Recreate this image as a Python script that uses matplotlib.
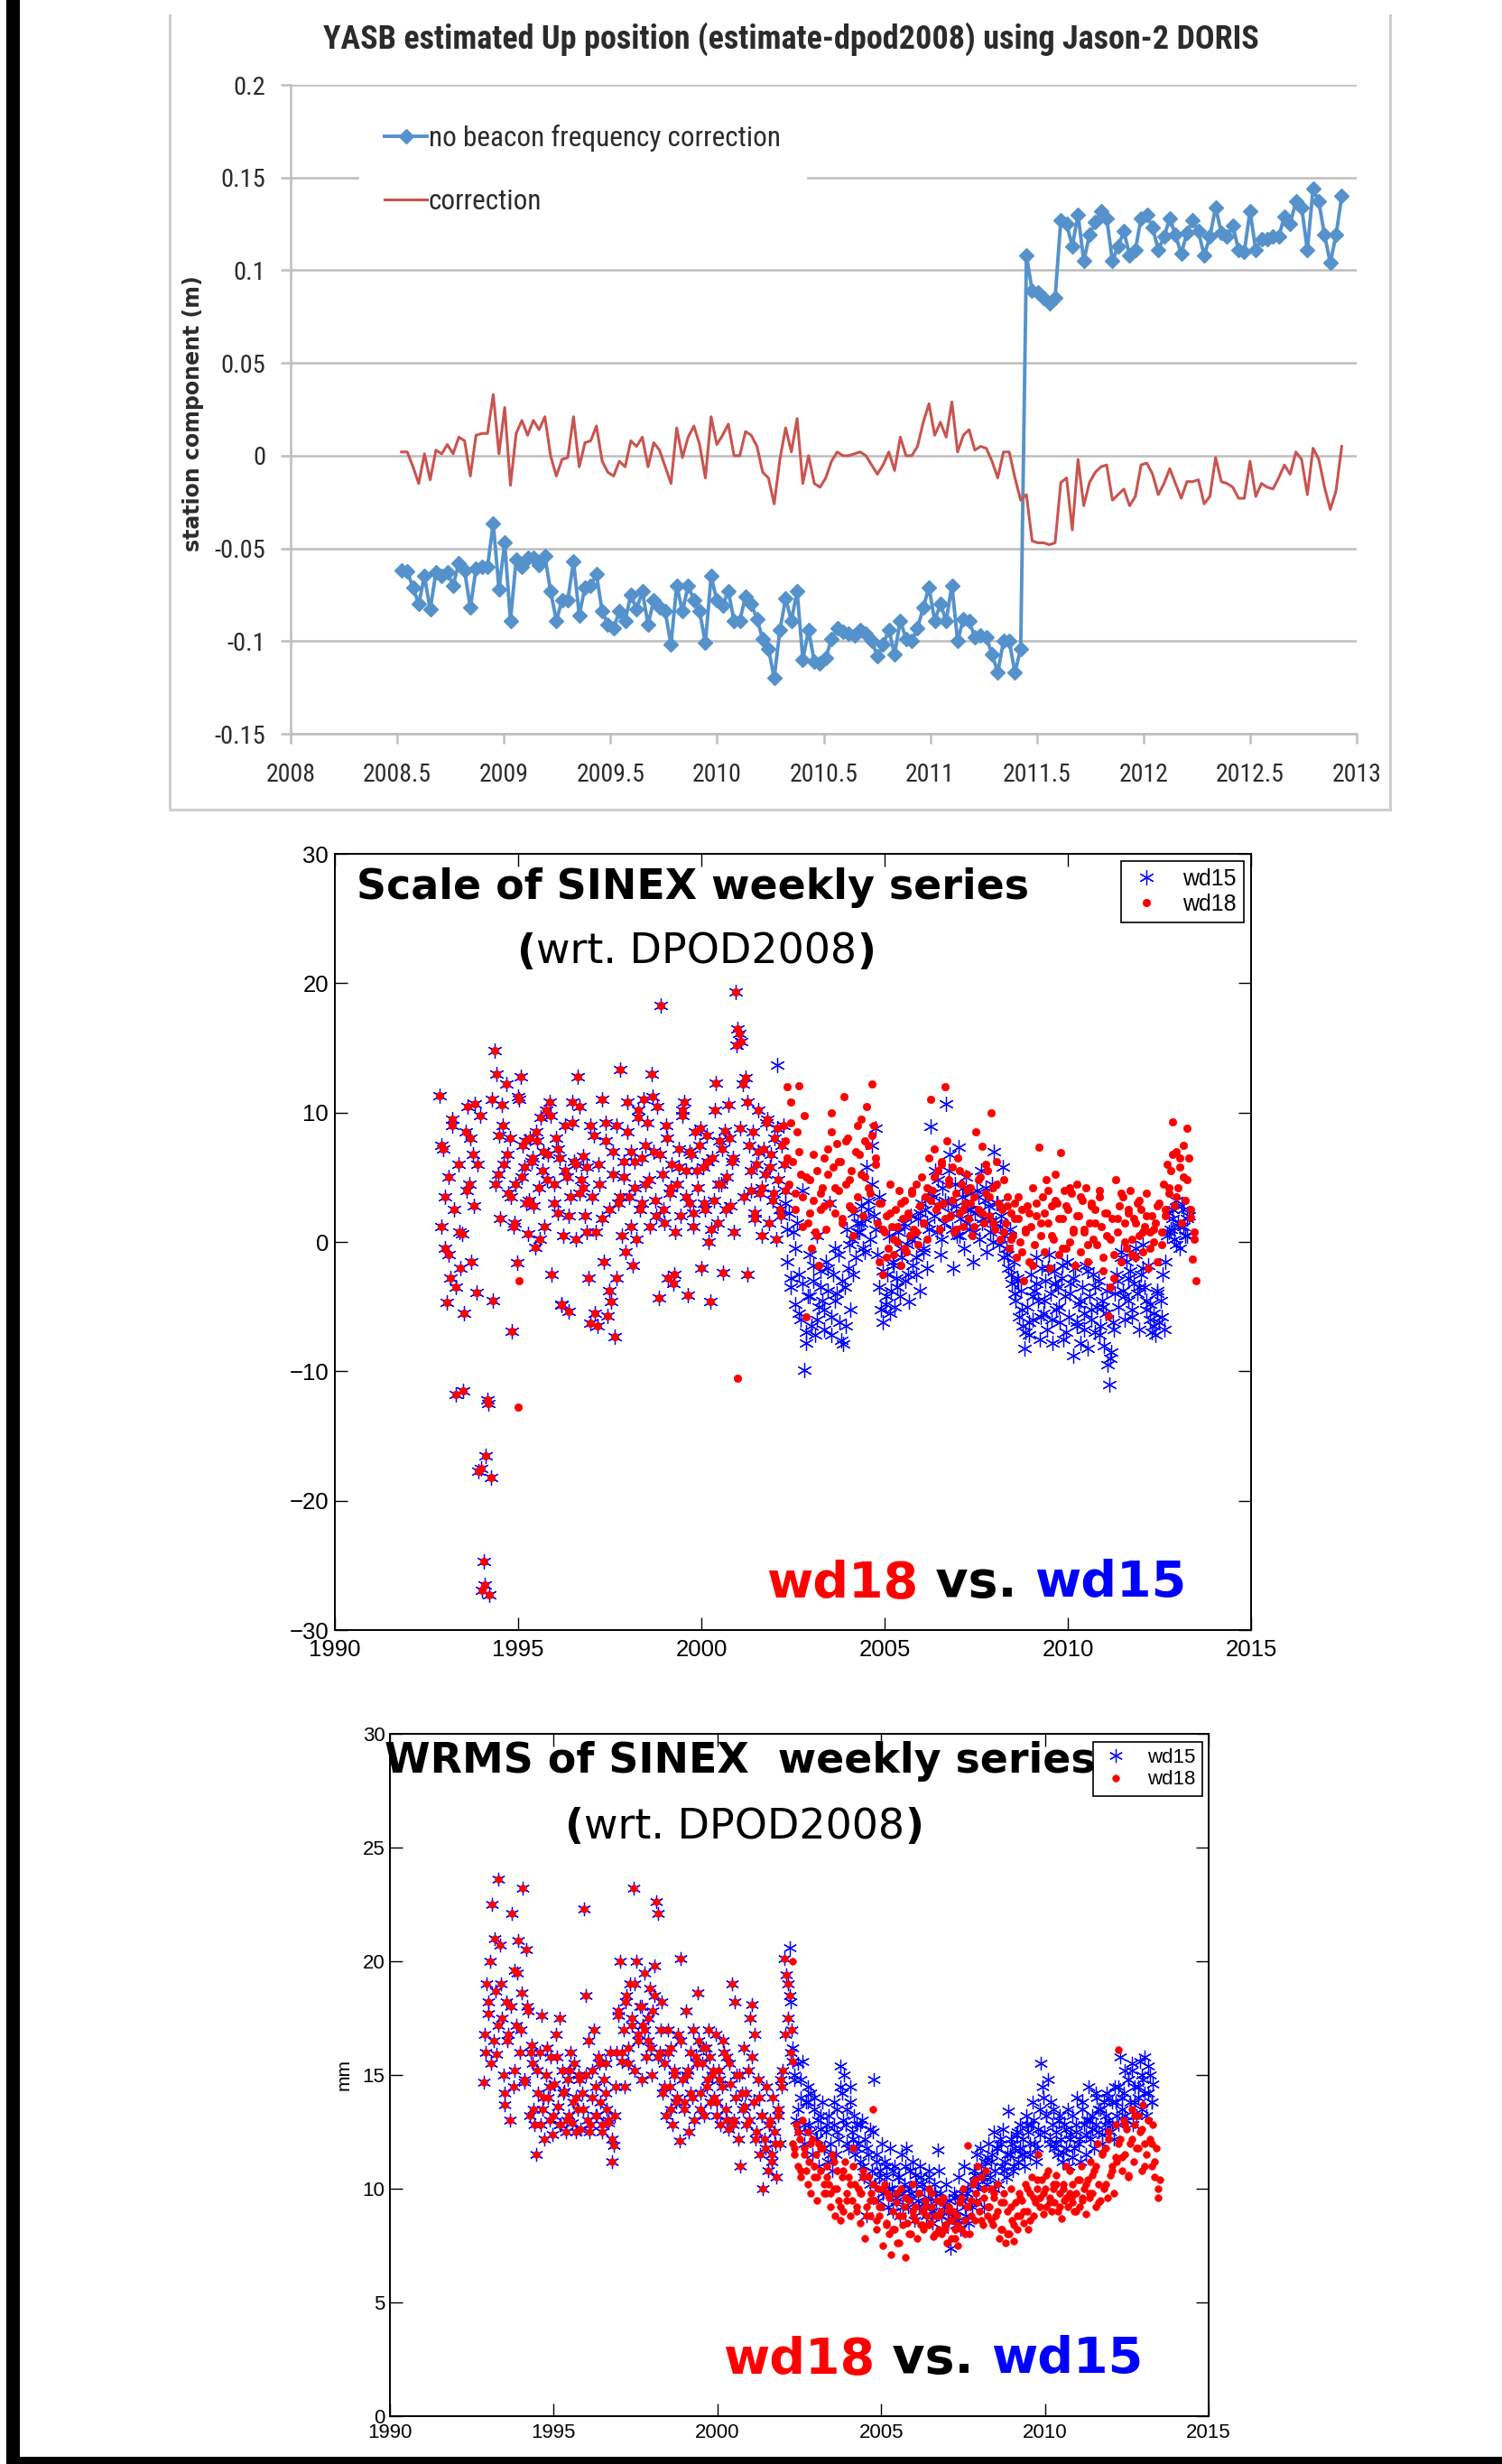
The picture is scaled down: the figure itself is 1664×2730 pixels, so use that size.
import numpy as np
import matplotlib.pyplot as plt
from matplotlib import font_manager
from matplotlib.lines import Line2D
from matplotlib.patches import Rectangle

# ---------------- data: top panel (Jason-2 DORIS, YASB up, metres) ----------------
up_t_start, up_t_end = 2008.52, 2012.93

no_beacon = [
    -0.062, -0.0625, -0.071, -0.080, -0.065, -0.083, -0.063, -0.065, -0.063, -0.070,
    -0.058, -0.062, -0.082, -0.061, -0.060, -0.060, -0.0365, -0.072, -0.047, -0.089,
    -0.056, -0.060, -0.055, -0.055, -0.059, -0.054, -0.073, -0.089, -0.078, -0.078,
    -0.057, -0.086, -0.071, -0.070, -0.064, -0.084, -0.091, -0.093, -0.084, -0.089,
    -0.075, -0.083, -0.073, -0.091, -0.078, -0.082, -0.084, -0.102, -0.070, -0.084,
    -0.070, -0.078, -0.084, -0.101, -0.065, -0.078, -0.081, -0.073,
    -0.089, -0.089, -0.076, -0.080, -0.088, -0.099, -0.104, -0.120, -0.094, -0.077,
    -0.089, -0.073, -0.110, -0.094, -0.111, -0.112, -0.109, -0.099, -0.093, -0.095,
    -0.096, -0.097, -0.094, -0.096, -0.100, -0.108, -0.102, -0.094, -0.107, -0.089,
    -0.099, -0.100, -0.093, -0.082, -0.071, -0.089, -0.080, -0.089, -0.070, -0.100,
    -0.088, -0.089, -0.098, -0.097, -0.098, -0.107, -0.117, -0.100, -0.100, -0.117,
    -0.104,
    0.108, 0.089, 0.088, 0.085, 0.082, 0.085, 0.127, 0.125, 0.113, 0.130,
    0.105, 0.119, 0.126, 0.132, 0.128, 0.105, 0.113, 0.121, 0.108, 0.111,
    0.128, 0.130, 0.123, 0.111, 0.118, 0.128, 0.119, 0.109, 0.120, 0.127,
    0.121, 0.108, 0.118, 0.134, 0.120, 0.118, 0.124, 0.111, 0.110, 0.132,
    0.111, 0.117, 0.117, 0.118, 0.118, 0.129, 0.125, 0.137, 0.134, 0.111,
    0.144, 0.137, 0.119, 0.104, 0.119, 0.140,
]

correction = [
    0.002, 0.002, -0.006, -0.015, 0.001, -0.013, 0.003, 0.001, 0.006, 0.001,
    0.010, 0.008, -0.011, 0.011, 0.012, 0.012, 0.033, 0.001, 0.026, -0.016,
    0.012, 0.019, 0.011, 0.019, 0.014, 0.021, 0.000, -0.011, -0.002, -0.001,
    0.021, -0.006, 0.007, 0.008, 0.016, -0.003, -0.009, -0.011, -0.003, -0.006,
    0.008, 0.005, 0.010, -0.006, 0.007, 0.003, -0.006, -0.015, 0.015, -0.001,
    0.010, 0.016, 0.006, -0.012, 0.021, 0.006, 0.011, 0.017,
    0.000, 0.000, 0.013, 0.011, 0.005, -0.009, -0.012, -0.026, -0.002, 0.015,
    0.002, 0.020, -0.015, 0.000, -0.015, -0.017, -0.012, -0.003, 0.002, 0.000,
    0.000, 0.001, 0.002, 0.000, -0.005, -0.010, -0.005, 0.002, -0.008, 0.010,
    0.000, 0.000, 0.005, 0.018, 0.028, 0.011, 0.018, 0.010, 0.029, 0.002,
    0.011, 0.014, 0.003, 0.005, 0.004, -0.003, -0.012, 0.002, 0.002, -0.012,
    -0.024,
    -0.021, -0.046, -0.047, -0.047, -0.048, -0.047, -0.0145, -0.012, -0.040, -0.002,
    -0.027, -0.0145, -0.009, -0.006, -0.005, -0.024, -0.021, -0.018, -0.027, -0.022,
    -0.005, -0.004, -0.010, -0.021, -0.015, -0.007, -0.015, -0.023, -0.014, -0.014,
    -0.013, -0.026, -0.022, -0.001, -0.014, -0.015, -0.017, -0.023, -0.023, -0.003,
    -0.022, -0.015, -0.017, -0.018, -0.012, -0.005, -0.010, 0.002, -0.002, -0.021,
    0.004, -0.002, -0.017, -0.029, -0.019, 0.005,
]

up_yticks = [-0.15, -0.1, -0.05, 0, 0.05, 0.1, 0.15, 0.2]
up_ylabels = ['-0.15', '-0.1', '-0.05', '0', '0.05', '0.1', '0.15', '0.2']
up_xticks = [2008, 2008.5, 2009, 2009.5, 2010, 2010.5, 2011, 2011.5, 2012, 2012.5, 2013]
up_xlabels = ['2008', '2008.5', '2009', '2009.5', '2010', '2010.5', '2011', '2011.5',
              '2012', '2012.5', '2013']

# ---------------- data: middle panel (scale, weekly SINEX) ----------------
# before 2002.3 wd15 and wd18 sit on top of each other
scale_common_span = (1992.86, 2002.30)
scale_common = [
    11.3, 1.2, 7.2, -0.5, -4.7, 5.0, -2.8, 9.0, 2.5, -11.8,
    6.0, -2.0, 0.6, -5.5, 8.5, 10.5, 4.5, -1.5, 6.8, 10.7,
    -3.9, -17.7, 9.8, -26.9, -24.7, -16.5, -12.2, -27.3, -18.2, -4.5,
    14.8, 13.0, 5.2, 1.8, 10.6, 6.0, 12.2, 3.8, 8.0, -6.9,
    1.2, 4.5, -1.6, 11.0, 12.8, 7.5, 5.8, 3.0, 0.6, 8.0,
    6.2, 2.8, -0.4, 7.8, 4.2, 9.6, 5.5, 1.2, 10.2, 6.8,
    10.8, -2.5, 4.5, 8.0, 2.2, 6.5, -4.9, 0.5, 9.0, 5.0,
    -5.4, 3.5, 9.2, 6.2, 0.2, 12.8, 10.5, 4.8, 6.6, 2.0,
    5.8, -2.8, -6.3, 3.5, 8.2, 0.8, -6.5, 4.5, 11.0, -1.5,
    9.2, -5.7, 2.5, -4.6, 7.0, -7.3, -2.8, 3.0, 13.3, 0.5,
    6.2, -0.8, 10.8, 3.5, 7.0, -1.8, 4.2, 0.2, 9.6, 2.5,
    6.5, 11.0, 4.5, 9.2, 1.2, 13.0, 7.0, 3.2, 10.5, -4.3,
    18.3, 5.2, 1.5, 9.0, -2.8, 3.8, 6.0, -3.2, 0.8, 4.5,
    7.2, 2.0, 9.8, 10.8, 5.5, -4.1, 3.0, 6.8, 1.2, 8.5,
    4.2, 7.5, -2.0, 5.8, 2.5, 8.2, 0.0, -4.6, 6.5, 3.2,
    12.3, 1.5, 7.8, 4.5, -2.4, 8.6, 5.0, 10.6, 2.8, 6.2,
    0.8, 19.3, 16.5, 16.1, 15.5, 12.2, 12.7, -2.5, 7.5, 4.0,
    8.5, 2.2, 6.0, 10.2, 3.8, 0.5, 7.2, 5.2, 9.5, 1.5,
    6.8, 3.2, 8.0, 0.2, 4.8, 2.5, 7.5, 9.0, 4.0,
]
scale_common_b_span = (1992.90, 2002.26)
scale_common_b = [
    7.5, 3.5, -1.0, 9.5, -3.5, 0.8, -11.5, 4.0, 8.0, 2.8,
    6.0, -17.5, -26.5, -12.5, 11.0, 4.5, 8.2, 9.0, 6.8, 3.5,
    1.5, 11.2, 5.0, 7.8, 3.2, 6.5, 8.5, 0.2, 7.0, 4.8,
    9.8, 3.0, 7.2, -4.8, 5.5, 2.0, 10.8, 6.0, 3.8, 4.2,
    0.8, 9.0, -5.5, 6.0, 1.8, 7.8, -3.8, 5.2, 9.0, 3.5,
    5.0, 8.5, 1.2, 6.2, 10.2, 3.0, 7.5, 4.8, 11.2, 2.0,
    6.8, 2.5, 8.0, 4.2, -2.5, 5.8, 10.2, 3.5, 7.0, 2.2,
    5.5, 8.8, 3.0, 6.2, 1.0, 10.2, 4.5, 7.2, 2.5, 8.0,
    6.5, 15.2, 8.8, 3.5, 10.8, 5.5, 1.8, 7.0, 4.2, 9.2,
    5.8, 3.8, 8.8, 2.0, 6.0,
]
scale_wd15_span = (2002.30, 2013.30)
scale_wd15 = [
    3.0, -1.5, 2.2, -3.5, 0.8, -4.8, 1.5, -2.5, -6.0, 4.0,
    -9.9, -7.8, -4.2, -1.0, -6.5, -3.0, -7.2, 0.5, -5.0, -2.2,
    -4.5, -6.8, -1.5, -3.8, 3.0, -5.8, -2.5, -0.5, -4.0, -6.2,
    -7.6, -7.9, -3.5, 1.0, -2.0, -5.2, 0.2, 2.2, -1.2, 1.5,
    0.8, 2.8, -0.5, 1.8, 5.8, 3.2, 0.2, 7.5, 2.0, 8.8,
    -1.0, -3.5, -5.2, -6.2, -4.8, -2.5, 0.5, -3.8, -1.5, -5.0,
    -2.8, 0.8, -4.2, -1.2, 1.5, -3.0, -0.2, -4.6, 2.0, -1.8,
    0.5, -2.5, 1.8, -3.8, 3.0, -0.8, 2.5, -2.0, 1.0, 8.9,
    3.5, 5.5, 0.8, 2.8, -1.0, 4.2, 1.5, 10.7, 3.0, 6.8,
    2.2, -2.0, 4.5, 0.5, 7.3, 1.8, 3.5, -0.5, 5.0, 2.5,
    1.0, 3.8, -1.5, 2.2, 4.0, 0.2, 5.5, 1.8, 3.2, -0.8,
    2.8, 0.8, 4.5, 7.0, 1.5, 3.0, -0.2, 2.0, 5.8, 0.5,
    -0.5, -2.0, 1.0, -3.2, -1.5, -4.5, -2.8, -5.8, -3.8, -6.5,
    -8.2, -5.0, -7.2, -2.5, -6.0, -3.8, -1.2, -4.5, -7.5, -2.0,
    -5.5, -3.0, -6.8, -1.0, -4.0, -7.8, -2.2, -5.2, -3.5, -6.2,
    -2.8, -7.5, -4.2, -1.5, -5.8, -3.2, -8.8, -2.0, -6.5, -4.8,
    -7.8, -3.5, -5.5, -1.8, -8.2, -4.2, -6.0, -2.5, -7.0, -5.0,
    -3.0, -6.5, -4.5, -8.0, -5.5, -9.5, -11.0, -8.5, -6.2, -4.0,
    -2.5, -5.0, -0.8, -3.8, -6.0, -1.5, -4.5, -2.2, -5.8, -3.2,
    -1.0, -4.0, -6.8, -2.5, -0.2, -3.5, -5.2, -1.8, -4.8, -7.0,
    -5.5, -7.2, -3.8, -6.2, -4.5, -2.5, -6.8, 0.5, 2.2, 1.0,
    2.5, 0.2, 3.2, 1.5, -0.5, 2.8, 1.2, 0.5, 1.8, 2.0,
]
scale_wd15_b_span = (2002.35, 2013.25)
scale_wd15_b = [
    1.0, -2.8, -0.5, -5.5, -3.2, -7.0, -4.2, -1.8, -6.0, -3.5,
    -5.2, -2.0, -7.2, -4.5, -1.0, -3.0, -6.5, -0.2, -2.5, 0.8,
    1.5, -0.8, 2.5, 4.5, 1.0, 3.5, -2.2, -4.2, -5.5, -1.8,
    -3.5, -0.5, 1.2, -2.5, 0.2, -1.2, 2.2, -0.5, 1.5, 3.8,
    2.0, 4.8, 0.2, 3.2, 5.5, 1.0, 2.8, 0.5, 4.2, 1.5,
    2.5, 0.8, 3.5, 1.5, 4.2, 2.0, 0.0, 3.0, 1.2, -1.2,
    -1.0, -2.5, -4.0, -3.0, -5.2, -7.0, -6.2, -4.2, -3.2, -5.8,
    -4.5, -2.0, -6.0, -3.2, -5.0, -1.8, -7.0, -4.0, -2.8, -6.2,
    -4.5, -6.8, -2.2, -5.2, -3.5, -7.2, -5.0, -3.8, -9.0, -6.8,
    -3.0, -1.2, -4.2, -2.8, -5.2, -0.5, -3.5, -2.0, -4.5, -6.0,
    -6.5, -4.0, -5.8, -1.5, 0.8, 1.8, -0.2, 1.2, 2.5, 0.5,
]
scale_wd18_span = (2002.30, 2013.50)
scale_wd18 = [
    7.8, 12.0, 4.5, 10.8, 6.2, 2.5, 8.5, 12.1, 5.2, 3.5,
    9.8, -5.8, 1.5, 4.8, -0.5, 3.2, 0.8, 5.5, -1.8, 2.5,
    4.2, 6.5, 1.0, 7.2, 3.0, 10.0, 5.8, 2.2, 7.6, 4.0,
    6.2, 1.8, 11.2, 4.5, 8.0, 2.8, 5.5, 0.5, 7.0, 3.5,
    6.8, 9.5, 2.0, 5.0, 10.5, 7.5, 3.8, 12.2, 9.0, 6.0,
    1.5, -1.5, 3.0, -2.5, 0.8, 2.0, -0.5, 4.5, 1.2, -1.0,
    2.5, 0.0, 4.0, -1.8, 1.8, 3.2, -0.8, 2.2, 0.5, 3.8,
    1.0, 4.5, -0.2, 2.8, 5.0, 1.5, 3.5, 0.2, 6.5, 11.0,
    4.0, 7.2, 2.5, 5.5, 1.0, 6.0, 3.0, 12.0, 7.8, 4.8,
    2.0, 5.8, 0.8, 3.8, 6.5, 2.2, 4.5, 1.2, 3.0, 5.2,
    1.8, 4.2, 0.5, 3.5, 8.5, 2.5, 5.0, 7.4, 1.5, 3.8,
    5.5, 2.0, 10.0, 4.2, 1.0, 6.2, 3.0, 0.2, 2.5, 4.8,
    1.5, 3.5, -0.5, 2.2, 0.5, 3.0, -1.2, 1.8, 0.0, 2.5,
    -3.0, 0.8, 2.8, -1.5, 1.2, 4.2, -0.2, 2.0, 7.3, 0.5,
    3.5, -0.8, 4.8, 1.5, -2.0, 2.8, 0.2, 5.2, 3.0, -1.0,
    6.9, 1.8, 4.0, -0.5, 2.5, 0.0, 3.8, 1.0, -1.8, 4.5,
    2.0, -0.8, 3.2, 0.8, 4.2, -1.5, 1.5, 3.0, 0.2, 2.5,
    -0.2, 3.5, 1.2, -2.2, 2.2, 0.5, -5.7, -3.5, 1.8, -1.0,
    4.8, 0.8, 2.8, -1.5, 3.5, 1.5, -0.5, 2.2, 4.0, 0.2,
    1.8, -1.2, 3.0, 0.5, 2.5, -0.8, 1.2, 3.8, -2.0, 0.8,
    2.0, 0.0, 1.5, -1.5, 3.0, 0.8, 4.5, 2.5, 6.0, 3.8,
    5.5, 9.3, 2.8, 7.0, 4.2, 6.5, 1.5, 5.0, 3.2, 8.8,
    6.5, 1.9, -1.3, 0.8, -3.0,
]
scale_wd18_b_span = (2002.35, 2013.45)
scale_wd18_b = [
    6.5, 9.2, 3.8, 7.0, 1.2, 5.0, 2.2, 6.8, 0.5, 3.8,
    2.8, 5.2, 8.5, 4.2, 6.2, 1.5, 7.8, 4.8, 2.5, 9.0,
    5.2, 7.8, 4.2, 8.2, 6.5, 3.0, 1.0, -1.2, 2.2, 0.2,
    1.2, 3.0, -0.5, 2.0, 4.0, 0.8, 2.8, 1.5, 4.2, 3.2,
    5.0, 2.8, 6.2, 1.8, 4.5, 3.2, 1.0, 5.5, 2.5, 4.0,
    3.0, 1.2, 4.8, 2.2, 6.0, 3.5, 1.5, 4.5, 2.8, 0.8,
    2.8, 0.2, 1.8, 3.5, -0.8, 1.0, 2.2, -1.8, 3.0, 1.5,
    2.2, 4.0, 0.5, 3.2, 1.8, -0.5, 2.8, 4.2, 0.8, 2.0,
    3.5, 1.0, -0.2, 2.8, 1.5, 4.0, -1.2, 2.2, 0.2, -2.8,
    1.8, 3.8, 0.0, 2.5, -1.0, 1.5, 3.2, 0.8, 2.0, -0.5,
    1.0, 2.8, -0.2, 2.0, 4.2, 6.8, 3.5, 5.8, 7.5, 4.8, 2.5, 0.2,
]
scale_wd15_only_t = [2002.07]
scale_wd15_only_v = [13.7]
scale_wd18_only_t = [1995.00, 1995.02, 2000.98]
scale_wd18_only_v = [-12.8, -3.0, -10.5]

# ---------------- data: bottom panel (WRMS, mm) ----------------
wrms_common_span = (1992.86, 2002.30)
wrms_common = [
    14.7, 16.0, 19.0, 17.7, 20.0, 22.5, 16.5, 18.7, 15.9, 23.6,
    20.7, 17.5, 15.0, 13.7, 18.2, 16.8, 13.0, 22.1, 14.5, 19.6,
    17.2, 20.9, 16.0, 18.6, 23.2, 14.7, 20.5, 17.8, 13.2, 16.3,
    15.5, 12.8, 11.5, 14.2, 16.0, 17.6, 13.5, 12.2, 15.0, 14.0,
    13.0, 15.8, 12.4, 14.6, 16.8, 13.6, 17.5, 12.8, 15.2, 14.3,
    12.5, 14.8, 13.2, 16.0, 12.9, 15.5, 14.0, 13.5, 15.0, 12.6,
    14.2, 22.3, 18.5, 13.0, 16.5, 12.8, 15.2, 17.0, 14.5, 13.2,
    15.8, 13.8, 12.5, 14.8, 15.5, 13.5, 12.9, 16.0, 11.2, 11.9,
    13.2, 16.0, 17.6, 20.0, 15.6, 17.0, 14.5, 18.5, 16.2, 19.0,
    17.5, 23.2, 15.2, 20.0, 16.8, 18.0, 14.8, 17.2, 19.5, 15.8,
    16.5, 18.8, 15.0, 17.8, 19.8, 22.6, 22.1, 16.0, 18.2, 14.2,
    15.5, 13.2, 17.0, 14.5, 16.2, 12.8, 15.0, 13.8, 16.8, 12.1,
    20.1, 14.8, 13.5, 17.8, 15.2, 12.5, 16.0, 14.0, 13.0, 15.8,
    18.6, 16.5, 14.2, 15.5, 13.2, 16.2, 14.8, 17.0, 13.8, 15.0,
    14.0, 16.8, 13.2, 15.2, 12.8, 14.5, 16.0, 13.5, 15.8, 12.6,
    14.6, 19.0, 13.0, 18.2, 15.0, 12.2, 11.0, 14.2, 16.2, 13.6,
    12.8, 15.2, 17.5, 18.1, 13.8, 16.8, 12.5, 14.8, 11.5, 13.2,
    10.0, 12.2, 14.5, 10.8, 13.0, 11.5, 14.0, 12.5, 10.5, 13.5,
    12.0, 14.8, 15.2, 20.1, 19.4, 17.5, 18.5, 16.0, 15.6,
]
wrms_common_b_span = (1992.90, 2002.26)
wrms_common_b = [
    16.8, 18.2, 15.5, 21.0, 17.2, 19.0, 14.2, 16.5, 18.0, 15.2,
    19.5, 17.0, 14.8, 18.0, 16.0, 13.5, 15.2, 12.8, 14.0, 16.2,
    14.5, 13.2, 15.8, 12.8, 14.2, 13.0, 15.2, 13.8, 12.5, 14.8,
    13.5, 15.0, 12.5, 14.0, 13.2, 15.5, 12.8, 14.2, 13.0, 12.2,
    14.5, 17.8, 16.0, 18.2, 15.5, 17.2, 19.0, 16.5, 18.0, 17.0,
    17.5, 16.2, 18.5, 15.8, 17.0, 14.5, 16.0, 13.5, 15.2, 14.0,
    16.5, 13.8, 15.0, 14.2, 17.0, 15.5, 13.5, 16.2, 14.5, 15.8,
    15.2, 13.8, 14.8, 16.5, 13.0, 15.5, 12.8, 14.0, 15.0, 13.5,
    14.2, 13.0, 15.8, 12.2, 14.0, 13.2, 11.8, 12.8, 11.2, 12.0,
    13.2, 14.5, 16.8, 19.0, 17.0,
]
wrms_wd15_span = (2002.30, 2013.30)
wrms_wd15 = [
    16.2, 14.8, 13.0, 15.5, 12.5, 14.0, 15.6, 12.0, 13.8, 14.5,
    12.8, 14.2, 11.5, 13.5, 12.2, 13.0, 11.0, 12.6, 13.8, 11.8,
    12.5, 11.2, 13.2, 12.0, 10.8, 12.8, 11.5, 13.5, 12.2, 15.4,
    14.2, 15.0, 12.8, 13.5, 11.8, 14.5, 12.5, 13.2, 11.5, 12.8,
    12.0, 11.2, 13.0, 10.5, 12.2, 8.8, 11.5, 12.6, 10.8, 14.8,
    10.2, 11.5, 9.5, 10.8, 12.0, 9.8, 11.2, 10.5, 9.2, 11.8,
    10.0, 9.0, 11.0, 9.6, 10.5, 8.8, 11.5, 9.8, 10.2, 11.8,
    9.2, 10.8, 9.8, 11.2, 8.6, 10.2, 9.5, 11.0, 10.5, 9.0,
    10.0, 8.8, 9.6, 10.8, 9.2, 8.5, 10.2, 9.5, 11.7, 8.9,
    9.8, 8.2, 9.2, 10.2, 8.6, 9.5, 7.4, 8.8, 9.8, 8.4,
    9.0, 10.5, 8.2, 9.5, 11.0, 8.8, 9.8, 8.5, 10.2, 9.2,
    10.8, 9.5, 11.5, 10.0, 11.8, 10.5, 9.2, 11.2, 10.2, 12.0,
    10.5, 11.5, 12.5, 10.8, 11.8, 10.2, 12.2, 11.0, 12.6, 11.2,
    10.5, 13.4, 11.5, 12.0, 10.8, 11.8, 12.4, 11.2, 12.8, 11.5,
    12.2, 11.0, 13.2, 12.5, 11.5, 12.8, 13.8, 12.0, 11.2, 12.6,
    13.5, 15.5, 14.5, 12.5, 13.2, 14.8, 12.0, 13.8, 12.8, 11.8,
    12.5, 11.5, 13.0, 12.2, 11.2, 12.8, 11.8, 13.5, 11.0, 12.4,
    13.2, 11.8, 12.5, 14.0, 12.0, 11.2, 13.5, 12.8, 11.5, 13.0,
    14.5, 12.2, 13.2, 11.8, 12.8, 14.0, 12.5, 13.5, 12.0, 13.8,
    12.8, 14.2, 13.0, 12.5, 13.8, 12.2, 14.5, 13.2, 12.8, 15.8,
    13.5, 14.2, 15.2, 13.0, 14.8, 13.8, 15.5, 12.8, 14.5, 13.2,
    14.0, 15.6, 13.5, 14.8, 15.8, 13.2, 14.2, 15.0, 13.8, 14.6,
]
wrms_wd15_b_span = (2002.35, 2013.25)
wrms_wd15_b = [
    15.0, 13.5, 14.8, 12.8, 13.8, 12.5, 14.0, 12.2, 13.2, 11.8,
    12.8, 11.5, 13.8, 12.5, 14.5, 13.0, 12.0, 13.8, 12.2, 11.8,
    12.8, 11.0, 11.8, 10.2, 12.5, 11.2, 10.5, 9.8, 11.0, 10.0,
    10.8, 9.5, 10.5, 9.2, 11.0, 10.0, 9.6, 10.6, 9.2, 10.2,
    9.4, 10.5, 9.0, 9.8, 10.8, 8.8, 9.4, 8.6, 9.0, 9.6,
    8.6, 9.8, 9.2, 10.0, 9.4, 10.6, 10.2, 11.0, 10.5, 11.4,
    11.2, 10.0, 11.8, 12.0, 10.8, 11.5, 12.2, 11.0, 12.5, 11.8,
    11.5, 12.8, 12.0, 13.0, 11.8, 12.4, 14.0, 13.2, 12.2, 13.5,
    12.0, 13.2, 11.6, 12.6, 12.2, 11.4, 12.8, 12.2, 13.8, 12.4,
    13.0, 12.6, 14.2, 13.5, 12.4, 13.2, 14.0, 12.8, 13.8, 14.5,
    14.0, 13.2, 14.8, 15.2, 13.8, 14.5, 15.0, 14.2, 15.4, 13.8,
]
wrms_wd18_span = (2002.30, 2013.50)
wrms_wd18 = [
    12.0, 11.5, 12.8, 11.0, 12.2, 10.5, 13.0, 11.8, 10.8, 12.5,
    11.2, 9.8, 12.2, 10.5, 11.5, 9.5, 12.0, 10.8, 11.8, 10.2,
    9.8, 11.0, 10.2, 9.2, 11.5, 10.0, 8.8, 10.8, 9.5, 8.6,
    10.5, 9.0, 11.2, 9.8, 10.5, 8.8, 9.5, 11.8, 10.2, 9.2,
    10.0, 8.5, 9.8, 10.8, 7.8, 9.2, 10.5, 8.8, 9.8, 13.5,
    9.5, 8.2, 10.0, 8.8, 9.2, 7.5, 10.2, 8.5, 9.8, 8.0,
    7.1, 9.0, 8.2, 9.8, 7.6, 8.8, 10.0, 8.4, 9.2, 7.0,
    8.5, 9.5, 8.0, 10.2, 8.8, 9.2, 7.8, 9.8, 8.4, 9.0,
    8.2, 9.5, 8.8, 10.0, 8.5, 9.2, 7.9, 8.8, 9.5, 8.2,
    9.0, 8.0, 9.6, 8.4, 7.6, 9.2, 8.6, 7.8, 9.0, 8.2,
    8.8, 7.5, 9.4, 8.2, 10.0, 8.6, 9.2, 11.9, 8.0, 9.5,
    10.2, 8.6, 9.8, 11.0, 9.0, 10.5, 8.4, 9.6, 10.8, 8.8,
    9.2, 10.0, 8.4, 9.6, 8.8, 10.2, 7.8, 9.4, 8.2, 9.8,
    7.6, 9.0, 8.0, 10.0, 8.6, 7.7, 9.4, 8.2, 9.8, 8.8,
    9.5, 8.5, 10.2, 9.0, 8.2, 9.8, 10.5, 8.8, 9.4, 10.0,
    11.5, 9.6, 10.4, 8.9, 10.0, 9.2, 10.8, 9.6, 9.0, 10.2,
    9.4, 10.6, 9.0, 9.8, 8.7, 10.2, 9.5, 11.0, 9.2, 9.8,
    9.6, 10.2, 9.0, 9.8, 10.4, 9.2, 11.0, 9.5, 10.0, 8.9,
    10.4, 9.6, 11.2, 9.8, 10.8, 9.2, 12.0, 10.2, 9.5, 11.5,
    10.0, 11.8, 9.6, 12.5, 10.6, 11.0, 9.8, 12.8, 11.2, 16.1,
    12.2, 10.8, 13.0, 11.5, 12.6, 10.5, 12.0, 13.5, 11.2, 12.8,
    11.8, 13.2, 12.5, 10.8, 13.7, 12.0, 11.5, 13.0, 12.2, 11.0,
    12.8, 10.5, 11.8, 9.6, 10.4,
]
wrms_wd18_b_span = (2002.35, 2013.45)
wrms_wd18_b = [
    11.8, 12.5, 10.8, 11.5, 10.2, 12.0, 11.0, 10.5, 11.8, 9.8,
    10.5, 9.8, 11.2, 10.0, 9.2, 10.8, 9.5, 10.2, 11.0, 9.0,
    9.8, 10.5, 8.8, 9.5, 10.2, 8.6, 9.2, 10.0, 8.4, 9.6,
    8.2, 9.4, 7.6, 8.8, 9.6, 8.0, 9.0, 8.6, 9.8, 8.4,
    9.2, 8.4, 9.8, 8.0, 8.8, 9.4, 8.2, 9.0, 8.6, 7.8,
    8.4, 9.6, 8.0, 9.2, 8.8, 10.4, 9.4, 8.6, 10.0, 9.2,
    8.6, 9.8, 9.0, 8.2, 9.4, 8.0, 9.2, 8.4, 8.8, 9.6,
    9.0, 10.0, 8.6, 9.6, 10.4, 9.2, 9.8, 10.6, 9.4, 10.0,
    10.2, 9.2, 10.0, 9.6, 10.8, 9.4, 9.0, 10.4, 9.6, 10.2,
    9.8, 10.6, 11.0, 9.4, 11.6, 10.2, 12.2, 10.8, 11.4, 12.0,
    11.4, 12.8, 10.6, 12.2, 13.2, 11.8, 12.6, 11.0, 13.0, 12.0, 11.2, 10.0,
]
wrms_wd15_only_t = [2002.20, 2002.25]
wrms_wd15_only_v = [20.6, 18.2]
wrms_wd18_only_t = [2002.30]
wrms_wd18_only_v = [20.0]

# ---------------- fonts / colours ----------------
installed = {f.name for f in font_manager.fontManager.ttflist}
narrow = next(n for n in ['Liberation Sans Narrow', 'Roboto Condensed', 'Lato', 'Liberation Sans']
              if n in installed)
helv = 'Liberation Sans'
heavy = 'DejaVu Sans'

XL_BLUE = '#5592cc'
XL_RED = '#c9544f'
XL_GRID = '#bdbdbd'
XL_TXT = '#2b2b2b'

W, H = 1665, 2730
fig = plt.figure(figsize=(W / 100, H / 100), dpi=100)


def box(x0, y0, x1, y1):
    # pixel box, origin top-left -> figure rect
    return [x0 / W, 1 - y1 / H, (x1 - x0) / W, (y1 - y0) / H]


# ---------------- top panel ----------------
ax1 = fig.add_axes(box(322, 94, 1503, 813))
t_up = np.linspace(up_t_start, up_t_end, len(no_beacon))
ax1.plot(t_up, no_beacon, color=XL_BLUE, lw=2.8, marker='D', ms=8,
         label='no beacon frequency correction', zorder=3)
ax1.plot(t_up, correction, color=XL_RED, lw=2.2, label='correction', zorder=3)
ax1.set_xlim(2008, 2013)
ax1.set_ylim(-0.15, 0.2)
ax1.set_yticks(up_yticks, up_ylabels, family=narrow, fontsize=20.5, color=XL_TXT)
ax1.set_xticks(up_xticks, up_xlabels, family=narrow, fontsize=20, color=XL_TXT)
ax1.grid(axis='y', color=XL_GRID, lw=1.8)
ax1.set_axisbelow(True)
for s in ['top', 'right']:
    ax1.spines[s].set_visible(False)
for s in ['left', 'bottom']:
    ax1.spines[s].set_color(XL_GRID)
    ax1.spines[s].set_linewidth(1.8)
ax1.tick_params(axis='y', direction='out', length=8, width=1.8, color=XL_GRID, pad=12)
ax1.tick_params(axis='x', direction='out', length=8, width=1.8, color=XL_GRID, pad=15)
leg1 = ax1.legend(loc='upper left', bbox_to_anchor=(0.0643, 0.978), borderaxespad=0,
                  frameon=True, facecolor='white', edgecolor='white', framealpha=1,
                  fancybox=False, prop={'family': narrow, 'size': 22.5}, handlelength=1.5,
                  handletextpad=0.05, labelspacing=1.3, borderpad=0.9, numpoints=1)
for txt in leg1.get_texts():
    txt.set_color(XL_TXT)

fig.text(876 / W, 1 - 43 / H,
         'YASB estimated Up position (estimate-dpod2008) using Jason-2 DORIS',
         ha='center', va='center', fontweight='bold', family=narrow, fontsize=26, color=XL_TXT)
fig.text(214 / W, 1 - 458 / H, 'station component (m)', rotation=90, ha='center',
         va='center', fontweight='bold', family=heavy, fontsize=17, color=XL_TXT)

# chart frame (Excel chart area border)
for xs, ys in [([188, 188], [17, 897]), ([188, 1540], [897, 897]), ([1540, 1540], [17, 897])]:
    fig.add_artist(Line2D([x / W for x in xs], [1 - y / H for y in ys],
                          transform=fig.transFigure, color='#cfcfcf', lw=2.2))


# ---------------- MATLAB style panels ----------------
def matlab_axes(rect, ylim, yticks, size, ypad, xpad):
    ax = fig.add_axes(rect)
    ax.set_xlim(1990, 2015)
    ax.set_ylim(*ylim)
    ax.set_xticks(range(1990, 2016, 5), [str(v) for v in range(1990, 2016, 5)],
                  family=helv, fontsize=size)
    ax.set_yticks(yticks, [str(v).replace('-', '\u2212') for v in yticks],
                  family=helv, fontsize=size)
    ax.tick_params(direction='in', length=10, width=1.0, top=True, right=True)
    ax.tick_params(axis='y', pad=ypad)
    ax.tick_params(axis='x', pad=xpad)
    for s in ax.spines.values():
        s.set_linewidth(1.4)
    return ax


def series(*pairs):
    # pairs of (span, values) -> one x array, one y array
    xs, ys = [], []
    for span, vals in pairs:
        if len(span) == 2 and len(vals) != 2:
            xs.append(np.linspace(span[0], span[1], len(vals)))
        else:
            xs.append(np.asarray(span, dtype=float))
        ys.append(np.asarray(vals, dtype=float))
    return np.concatenate(xs), np.concatenate(ys)


def scatter_pair(ax, wd15_xy, wd18_xy, ms_star, ms_dot, leg_size, leg_anchor):
    star = dict(linestyle='none', marker=(6, 2, 0), ms=ms_star, mec='blue', mew=0.9)
    dot = dict(linestyle='none', marker='o', ms=ms_dot, mfc='red', mec='red', mew=0.5)
    ax.plot(*wd15_xy, label='wd15', **star)
    ax.plot(*wd18_xy, label='wd18', **dot)
    leg = ax.legend(loc='upper right', bbox_to_anchor=leg_anchor, borderaxespad=0,
                    fancybox=False, edgecolor='black', framealpha=1,
                    prop={'family': helv, 'size': leg_size}, handlelength=1.6,
                    handletextpad=0.8, borderpad=0.32, labelspacing=0.15, numpoints=1)
    leg.get_frame().set_linewidth(1.2)


ax2 = matlab_axes(box(371, 946, 1386, 1806), (-30, 30), [-30, -20, -10, 0, 10, 20, 30],
                  18.5, 5, 7)
scatter_pair(ax2,
             series((scale_common_span, scale_common), (scale_common_b_span, scale_common_b),
                    (scale_wd15_span, scale_wd15), (scale_wd15_b_span, scale_wd15_b),
                    (scale_wd15_only_t, scale_wd15_only_v)),
             series((scale_common_span, scale_common), (scale_common_b_span, scale_common_b),
                    (scale_wd18_span, scale_wd18), (scale_wd18_b_span, scale_wd18_b),
                    (scale_wd18_only_t, scale_wd18_only_v)),
             12, 6, 18, ((1378 - 371) / 1015, 1 - (954 - 946) / 860))

ax3 = matlab_axes(box(432, 1921, 1339, 2677), (0, 30), [0, 5, 10, 15, 20, 25, 30],
                  16, 4, 6)
scatter_pair(ax3,
             series((wrms_common_span, wrms_common), (wrms_common_b_span, wrms_common_b),
                    (wrms_wd15_span, wrms_wd15), (wrms_wd15_b_span, wrms_wd15_b),
                    (wrms_wd15_only_t, wrms_wd15_only_v)),
             series((wrms_common_span, wrms_common), (wrms_common_b_span, wrms_common_b),
                    (wrms_wd18_span, wrms_wd18), (wrms_wd18_b_span, wrms_wd18_b),
                    (wrms_wd18_only_t, wrms_wd18_only_v)),
             11, 5.5, 16, ((1332 - 432) / 907, 1 - (1930 - 1921) / 756))
fig.text(381 / W, 1 - 2299 / H, 'mm', rotation=90, ha='center', va='center',
         family=helv, fontsize=15)


def title_lines(x_title, y_title, title, x_sub, y_sub, x_vs, y_vs):
    fig.text(x_title / W, 1 - y_title / H, title, ha='left', va='baseline',
             fontweight='bold', family=heavy, fontsize=33)
    t = fig.text(x_sub / W, 1 - y_sub / H, '(', ha='left', va='baseline',
                 fontweight='bold', family=heavy, fontsize=33)
    t = plt.annotate('wrt. DPOD2008', xy=(1, 0), xycoords=t, ha='left', va='bottom',
                     family=heavy, fontsize=33, annotation_clip=False)
    plt.annotate(')', xy=(1, 0), xycoords=t, ha='left', va='bottom',
                 fontweight='bold', family=heavy, fontsize=33, annotation_clip=False)
    t = fig.text(x_vs / W, 1 - y_vs / H, 'wd18', ha='left', va='baseline', color='red',
                 fontweight='bold', family=heavy, fontsize=40)
    t = plt.annotate(' vs. ', xy=(1, 0), xycoords=t, ha='left', va='bottom', color='black',
                     fontweight='bold', family=heavy, fontsize=40, annotation_clip=False)
    plt.annotate('wd15', xy=(1, 0), xycoords=t, ha='left', va='bottom', color='blue',
                 fontweight='bold', family=heavy, fontsize=40, annotation_clip=False)


title_lines(395, 996, 'Scale of SINEX weekly series', 573, 1068, 849, 1769)
title_lines(426, 1964, 'WRMS of SINEX  weekly series', 626, 2037, 801, 2629)

# black page edges
fig.add_artist(Rectangle((7 / W, 0), 15 / W, 1, transform=fig.transFigure,
                         color='black', lw=0))
fig.add_artist(Rectangle((7 / W, 0), 1 - 7 / W, 8 / H, transform=fig.transFigure,
                         color='black', lw=0))

fig.savefig('out.png', dpi=100)
